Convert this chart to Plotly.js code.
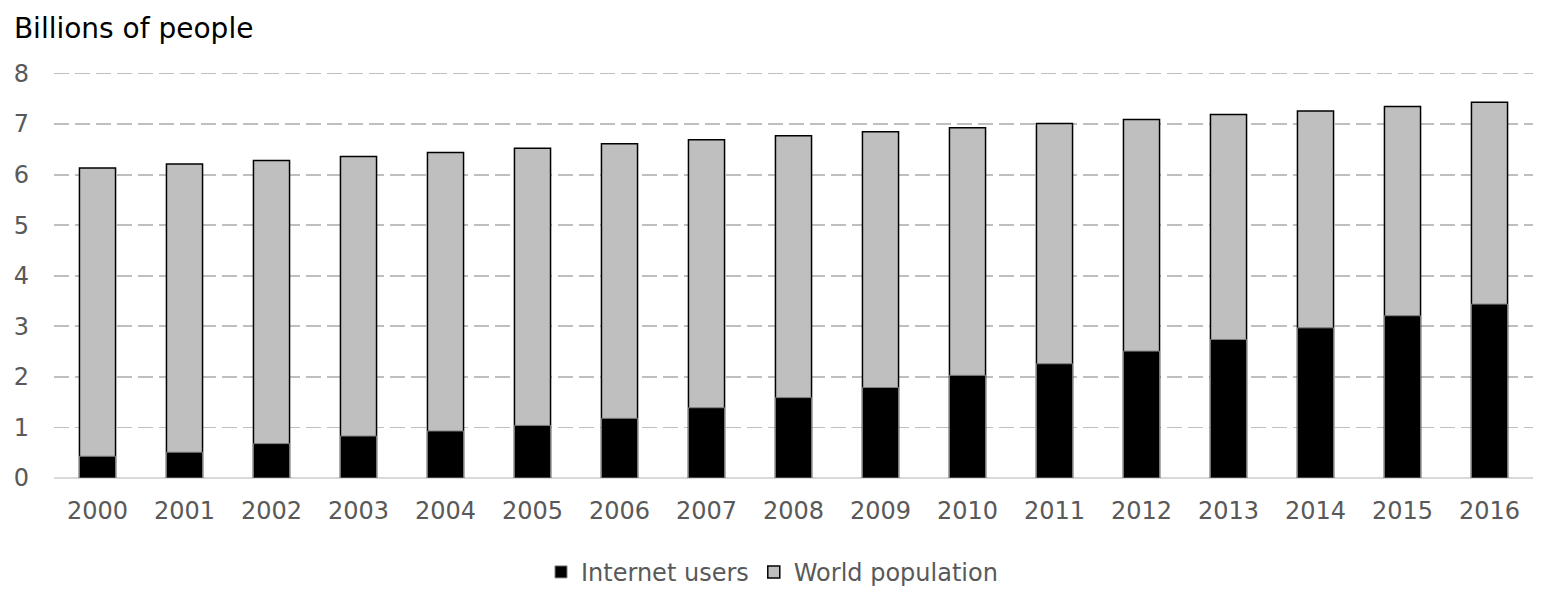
<!DOCTYPE html>
<html>
<head>
<meta charset="utf-8">
<script src="https://cdn.plot.ly/plotly-3.0.1.min.js"></script>
<style>html,body{margin:0;padding:0;background:#fff;}#chart{width:1544px;height:590px;}</style>
</head>
<body>
<div id="chart"></div>
<script>
const years = ['2000','2001','2002','2003','2004','2005','2006','2007','2008','2009','2010','2011','2012','2013','2014','2015','2016'];
const worldPopulation = [6.13,6.21,6.28,6.36,6.44,6.52,6.61,6.69,6.77,6.85,6.93,7.01,7.09,7.19,7.26,7.35,7.43];
const internetUsers = [0.43,0.51,0.68,0.83,0.93,1.04,1.18,1.39,1.59,1.79,2.03,2.26,2.51,2.74,2.97,3.21,3.44];
const yTicks = [0,1,2,3,4,5,6,7,8];

const traces = [
  {type:'bar', name:'World population', x:years, y:worldPopulation,
   marker:{color:'#bfbfbf', line:{color:'#000000', width:1.5}}, legendrank:2, hoverinfo:'x+y+name'},
  {type:'bar', name:'Internet users', x:years, y:internetUsers,
   marker:{color:'#000000', line:{color:'#7f7f7f', width:1}}, legendrank:1, hoverinfo:'x+y+name'}
];

const layout = {
  width:1544, height:590,
  paper_bgcolor:'#ffffff', plot_bgcolor:'#ffffff',
  font:{family:'DejaVu Sans, Verdana, sans-serif', color:'#595959', size:24},
  margin:{l:54, r:11, t:71, b:112, autoexpand:false},
  barmode:'overlay',
  bargap:0.585,
  title:{text:'Billions of people', x:0.009, xanchor:'left', xref:'container', y:0.952, yanchor:'middle', yref:'container',
         font:{family:'DejaVu Sans, Verdana, sans-serif', size:28, color:'#000000'}},
  xaxis:{type:'category', showgrid:false, showline:false, zeroline:false, ticks:'', ticklen:0,
         tickfont:{size:24, color:'#595959'}, ticklabelstandoff:16, fixedrange:true},
  yaxis:{range:[0,8.05], tickvals:yTicks, showgrid:true, gridcolor:'#bfbfbf', gridwidth:1.8, griddash:'15px,6px',
         zeroline:true, zerolinecolor:'#d9d9d9', zerolinewidth:2, showline:false, ticks:'',
         tickfont:{size:24, color:'#595959'}, ticklabelstandoff:24, fixedrange:true},
  showlegend:true,
  legend:{orientation:'h', x:0.5, xanchor:'center', xref:'container', y:0.03, yanchor:'middle', yref:'container',
          font:{size:24, color:'#595959'}, itemwidth:30, traceorder:'normal', tracegroupgap:0},
};
Plotly.newPlot('chart', traces, layout, {displayModeBar:false, staticPlot:true});
</script>
</body>
</html>
